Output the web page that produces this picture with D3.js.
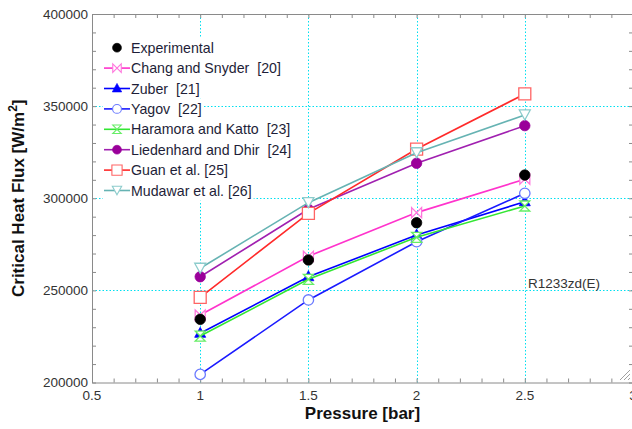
<!DOCTYPE html>
<html>
<head>
<meta charset="utf-8">
<script src="https://cdn.jsdelivr.net/npm/d3@7"></script>
<style>
  body { margin: 0; background: #fff; }
  svg { display: block; font-family: Arial, "Liberation Sans", sans-serif; }
</style>
</head>
<body>
<svg id="chart"></svg>
<script>
const pressure = [1, 1.5, 2, 2.5];
const experimental = [234300, 266500, 286700, 312600];
const changSnyder = [236600, 268500, 292200, 310300];
const zuber = [226700, 257400, 280000, 298100];
const yagov = [204400, 244800, 276400, 302700];
const haramoraKatto = [225200, 256000, 278800, 295800];
const liedenhardDhir = [257400, 294000, 319000, 339400];
const guan = [246200, 291800, 326700, 356600];
const mudawar = [262000, 297600, 324700, 345200];

const xTicks = [0.5, 1, 1.5, 2, 2.5, 3];
const yTicks = [200000, 250000, 300000, 350000, 400000];

const width = 632;
const height = 429;
const margin = {left: 92, right: -1, top: 14, bottom: 46.5};

const series = [
  {name: 'Chang and Snyder  [20]', values: changSnyder, line: '#ff33cc', stroke: '#ff77dd', fill: '#fff', shape: 'bowtie'},
  {name: 'Zuber  [21]', values: zuber, line: '#0000ff', stroke: '#0000ff', fill: '#0000ff', shape: 'triUp'},
  {name: 'Yagov  [22]', values: yagov, line: '#1a1aff', stroke: '#6b7bff', fill: '#fff', shape: 'circle'},
  {name: 'Haramora and Katto  [23]', values: haramoraKatto, line: '#33e633', stroke: '#66ee66', fill: '#fff', shape: 'hourglass'},
  {name: 'Liedenhard and Dhir  [24]', values: liedenhardDhir, line: '#a020b0', stroke: '#9a009a', fill: '#9a009a', shape: 'circle'},
  {name: 'Guan et al. [25]', values: guan, line: '#ff2a2a', stroke: '#ff6464', fill: '#fff', shape: 'square'},
  {name: 'Mudawar et al. [26]', values: mudawar, line: '#66b3b3', stroke: '#8ccccc', fill: '#fff', shape: 'triDown'},
  {name: 'Experimental', values: experimental, line: null, stroke: '#000', fill: '#000', shape: 'circle'}
];

const svg = d3.select('#chart')
  .attr('width', width)
  .attr('height', height);

const x = d3.scaleLinear()
  .domain([0.5, 3])
  .range([margin.left, width - margin.right]);

const y = d3.scaleLinear()
  .domain([200000, 400000])
  .range([height - margin.bottom, margin.top]);

// Dotted grid
const grid = svg.append('g')
  .attr('stroke', '#00e0f0')
  .attr('stroke-width', 1)
  .attr('stroke-dasharray', '1.5,2');

grid.selectAll('line.vx')
  .data(xTicks.slice(1, -1))
  .enter()
  .append('line')
  .attr('x1', (d) => Math.round(x(d)) + 0.5)
  .attr('x2', (d) => Math.round(x(d)) + 0.5)
  .attr('y1', y(400000))
  .attr('y2', y(200000));

grid.selectAll('line.hy')
  .data(yTicks.slice(1, -1))
  .enter()
  .append('line')
  .attr('x1', x(0.5))
  .attr('x2', x(3))
  .attr('y1', (d) => Math.round(y(d)) + 0.5)
  .attr('y2', (d) => Math.round(y(d)) + 0.5);

// Frame with inward minor ticks on all four sides
const minorX = d3.range(5, 31).map((d) => d / 10);
const minorY = d3.range(20, 41).map((d) => d * 10000);

const frameAxes = [
  [d3.axisBottom(x).tickValues(minorX), `translate(0, ${y(200000)})`],
  [d3.axisTop(x).tickValues(minorX), `translate(0, ${y(400000)})`],
  [d3.axisLeft(y).tickValues(minorY), `translate(${x(0.5)}, 0)`],
  [d3.axisRight(y).tickValues(minorY), `translate(${x(3)}, 0)`]
];

frameAxes.forEach(([axis, tr]) => {
  const g = svg.append('g')
    .attr('transform', tr)
    .call(axis.tickSize(-4).tickSizeOuter(0).tickFormat(''));
  g.selectAll('path, line').attr('stroke', '#8a8a8a');
});

// Tick labels
svg.append('g')
  .selectAll('text')
  .data(xTicks)
  .enter()
  .append('text')
  .attr('x', (d) => x(d))
  .attr('y', 400)
  .attr('text-anchor', 'middle')
  .attr('font-size', 13.5)
  .attr('fill', '#333')
  .text((d) => d);

svg.append('g')
  .selectAll('text')
  .data(yTicks)
  .enter()
  .append('text')
  .attr('x', 88)
  .attr('y', (d) => y(d) + 4.5)
  .attr('text-anchor', 'end')
  .attr('font-size', 13.5)
  .attr('fill', '#333')
  .text((d) => d);

// Axis titles
svg.append('text')
  .attr('x', (x(0.5) + x(3)) / 2)
  .attr('y', 419)
  .attr('text-anchor', 'middle')
  .attr('font-size', 17)
  .attr('font-weight', 'bold')
  .attr('fill', '#111')
  .text('Pressure [bar]');

const yTitle = svg.append('text')
  .attr('transform', `translate(24, ${(y(200000) + y(400000)) / 2}) rotate(-90)`)
  .attr('text-anchor', 'middle')
  .attr('font-size', 17)
  .attr('font-weight', 'bold')
  .attr('fill', '#111');
yTitle.append('tspan').text('Critical Heat Flux [W/m');
yTitle.append('tspan').attr('font-size', 12).attr('dy', -7).text('2');
yTitle.append('tspan').attr('dy', 7).text(']');

// Marker shapes
function markerPath(shape) {
  switch (shape) {
    case 'triUp': return 'M0,-6L5.5,4L-5.5,4Z';
    case 'triDown': return 'M0,5L5.5,-5L-5.5,-5Z';
    case 'square': return 'M-6,-6H6V6H-6Z';
    case 'bowtie': return 'M-5,-5L5,5V-5L-5,5Z';
    case 'hourglass': return 'M-5,-5H5L-5,5H5Z';
    default: return d3.symbol(d3.symbolCircle, 85)();
  }
}

function drawMarker(sel, s) {
  sel.append('path')
    .attr('d', markerPath(s.shape))
    .attr('fill', s.fill)
    .attr('stroke', s.stroke)
    .attr('stroke-width', s.fill === '#fff' ? 1.3 : 0.8);
}

const line = d3.line()
  .x((d) => x(d[0]))
  .y((d) => y(d[1]));

series.forEach((s) => {
  const pts = pressure.map((p, i) => [p, s.values[i]]);
  if (s.line) {
    svg.append('path')
      .datum(pts)
      .attr('d', line)
      .attr('fill', 'none')
      .attr('stroke', s.line)
      .attr('stroke-width', 1.6);
  }
  pts.forEach((p) => {
    const g = svg.append('g').attr('transform', `translate(${x(p[0])}, ${y(p[1])})`);
    drawMarker(g, s);
  });
});

// Legend
const legendOrder = [series[7]].concat(series.slice(0, 7));
const legend = svg.append('g');
legendOrder.forEach((s, i) => {
  const cy = 47.7 + i * 20.4;
  const row = legend.append('g');
  const bg = row.append('rect');
  if (s.line) {
    row.append('line')
      .attr('x1', 104).attr('x2', 130)
      .attr('y1', cy).attr('y2', cy)
      .attr('stroke', s.line)
      .attr('stroke-width', 1.6);
  }
  const m = row.append('g').attr('transform', `translate(117, ${cy}) scale(0.85)`);
  drawMarker(m, s);
  const t = row.append('text')
    .attr('x', 131)
    .attr('y', cy + 5)
    .attr('font-size', 14.2)
    .attr('fill', '#1e1e38')
    .style('white-space', 'pre')
    .text(s.name);
  const w = t.node().getComputedTextLength();
  bg.attr('x', 103).attr('y', cy - 10.2)
    .attr('width', 131 + w - 103 + 2).attr('height', 20.4)
    .attr('fill', '#fff');
});

svg.append('text')
  .attr('x', 528)
  .attr('y', 288)
  .attr('font-size', 13.5)
  .attr('fill', '#333')
  .text('R1233zd(E)');

// Resize grip in the corner
svg.append('g')
  .attr('stroke', '#a0a0a0')
  .attr('stroke-width', 1)
  .selectAll('line')
  .data([0, 4, 8])
  .enter()
  .append('line')
  .attr('x1', (d) => 620 + d)
  .attr('y1', 380)
  .attr('x2', 630)
  .attr('y2', (d) => 370 + d);
</script>
</body>
</html>
